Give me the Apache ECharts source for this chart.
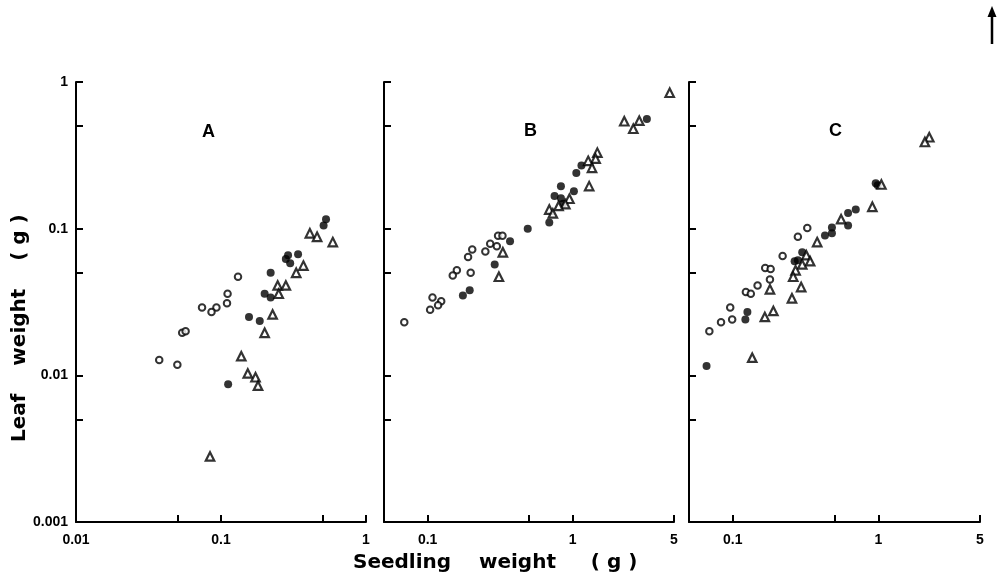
<!DOCTYPE html>
<html><head><meta charset="utf-8">
<script src="https://cdn.jsdelivr.net/npm/echarts@6/dist/echarts.min.js"></script>
<style>html,body{margin:0;padding:0;background:#fff}#c{width:1001px;height:587px}</style>
</head><body><div id="c"></div>
<script>
// ---- data ----
const panelNames = ['A', 'B', 'C'];
const yRange = [0.001, 1];
const yTicks = [0.001, 0.005, 0.01, 0.05, 0.1, 0.5, 1];
const yLabels = [0.001, 0.01, 0.1, 1];
const xRangeA = [0.01, 1];
const xTicksA = [0.01, 0.05, 0.1, 0.5, 1];
const xLabelsA = [0.01, 0.1, 1];
const xRangeBC = [0.05, 5];
const xTicksBC = [0.05, 0.1, 0.5, 1, 5];
const xLabelsBC = [0.1, 1, 5];
const xTitle = 'Seedling    weight     ( g )';
const yTitle = 'Leaf    weight    ( g )';

const aOpen = [[0.131,0.047],[0.111,0.036],[0.110,0.031],[0.093,0.029],[0.086,0.027],[0.074,0.029],[0.054,0.0195],[0.057,0.020],[0.0375,0.0127],[0.050,0.0118]];
const aFilled = [[0.53,0.116],[0.51,0.105],[0.34,0.067],[0.29,0.066],[0.28,0.062],[0.30,0.058],[0.22,0.050],[0.20,0.036],[0.22,0.034],[0.156,0.025],[0.185,0.0235],[0.112,0.0087]];
const aTri = [[0.41,0.093],[0.46,0.088],[0.59,0.081],[0.37,0.056],[0.33,0.050],[0.246,0.041],[0.28,0.041],[0.25,0.036],[0.227,0.026],[0.20,0.0195],[0.138,0.0135],[0.153,0.0103],[0.173,0.0097],[0.18,0.0085],[0.084,0.0028]];

const bOpen = [[0.306,0.0895],[0.328,0.0895],[0.27,0.079],[0.30,0.076],[0.25,0.070],[0.203,0.072],[0.19,0.064],[0.159,0.052],[0.149,0.048],[0.198,0.050],[0.108,0.034],[0.124,0.032],[0.118,0.030],[0.104,0.028],[0.069,0.023]];
const bFilled = [[3.25,0.56],[1.15,0.27],[1.06,0.24],[0.83,0.195],[1.02,0.18],[0.75,0.167],[0.83,0.161],[0.86,0.148],[0.69,0.11],[0.49,0.10],[0.37,0.082],[0.29,0.057],[0.195,0.038],[0.175,0.035]];
const bTri = [[4.67,0.845],[2.27,0.54],[2.62,0.48],[2.88,0.545],[1.48,0.33],[1.44,0.30],[1.28,0.29],[1.36,0.26],[1.30,0.195],[0.95,0.16],[0.89,0.147],[0.80,0.143],[0.69,0.135],[0.73,0.127],[0.33,0.069],[0.31,0.047]];

const cOpen = [[0.325,0.101],[0.28,0.088],[0.22,0.065],[0.167,0.054],[0.182,0.053],[0.18,0.045],[0.148,0.041],[0.123,0.037],[0.133,0.036],[0.096,0.029],[0.099,0.024],[0.083,0.023],[0.069,0.020]];
const cFilled = [[0.96,0.204],[0.99,0.198],[0.70,0.135],[0.62,0.128],[0.62,0.105],[0.48,0.102],[0.48,0.093],[0.43,0.090],[0.30,0.069],[0.28,0.061],[0.266,0.060],[0.126,0.027],[0.122,0.024],[0.066,0.0116]];
const cTri = [[2.24,0.42],[2.09,0.39],[1.05,0.20],[0.91,0.141],[0.555,0.116],[0.38,0.081],[0.32,0.066],[0.34,0.060],[0.30,0.057],[0.27,0.052],[0.26,0.047],[0.295,0.040],[0.255,0.0335],[0.18,0.0386],[0.19,0.0275],[0.166,0.025],[0.136,0.0132]];

// ---- chart ----
const chart = echarts.init(document.getElementById('c'), null, {renderer: 'canvas'});
const fmt = v => String(+Number(v).toPrecision(3));
const grids = [
  {left: 76, top: 82, width: 290, height: 440, outerBoundsMode: 'none'},
  {left: 384, top: 82, width: 290, height: 440, outerBoundsMode: 'none'},
  {left: 689, top: 82, width: 291, height: 440, outerBoundsMode: 'none'}
];
const labelFont = {color: '#000', fontSize: 14, fontFamily: 'Liberation Sans', fontWeight: 'bold'};
const lineS = {color: '#000', width: 2};
function xAxis(i, range, ticks, labels) {
  return {type: 'log', logBase: 10, gridIndex: i, min: range[0], max: range[1], position: 'bottom',
    axisLine: {show: true, onZero: false, lineStyle: lineS},
    axisTick: {show: true, inside: true, length: 7, customValues: ticks, lineStyle: lineS},
    axisLabel: Object.assign({show: true, customValues: labels, formatter: fmt, margin: 11}, labelFont),
    splitLine: {show: false}, minorTick: {show: false}};
}
function yAxis(i, showLabels) {
  return {type: 'log', logBase: 10, gridIndex: i, min: yRange[0], max: yRange[1], position: 'left',
    axisLine: {show: true, onZero: false, lineStyle: lineS},
    axisTick: {show: true, inside: true, length: 7, customValues: yTicks, lineStyle: lineS},
    axisLabel: Object.assign({show: showLabels, customValues: yLabels, formatter: fmt, margin: 8}, labelFont),
    splitLine: {show: false}, minorTick: {show: false}};
}
const openStyle = {color: '#fff', borderColor: '#000', borderWidth: 2};
const fillStyle = {color: '#000', borderColor: '#000', borderWidth: 0};
const triStyle = {color: '#fff', borderColor: '#000', borderWidth: 2.2};
const panels = [[aOpen, aFilled, aTri], [bOpen, bFilled, bTri], [cOpen, cFilled, cTri]];
const series = [];
panels.forEach((p, i) => {
  series.push({type: 'scatter', xAxisIndex: i, yAxisIndex: i, data: p[0], symbol: 'circle', symbolSize: 6.5, itemStyle: openStyle, z: 3});
  series.push({type: 'scatter', xAxisIndex: i, yAxisIndex: i, data: p[1], symbol: 'circle', symbolSize: 8, itemStyle: fillStyle, z: 4});
  series.push({type: 'scatter', xAxisIndex: i, yAxisIndex: i, data: p[2], symbol: 'triangle', symbolSize: [8.5, 8.5], itemStyle: triStyle, z: 5});
});
const letterPos = [[208, 132], [530, 131], [835, 131]];
const graphic = panelNames.map((n, i) => ({type: 'text', left: letterPos[i][0] - 6, top: letterPos[i][1] - 9,
  style: {text: n, fill: '#000', font: 'bold 18px "Liberation Sans"'}}));
graphic.push({type: 'text', left: 353, top: 553, style: {text: xTitle, fill: '#000', font: 'bold 20px "DejaVu Sans"'}});
graphic.push({type: 'text', x: 10, y: 442, rotation: Math.PI / 2, style: {text: yTitle, fill: '#000', font: 'bold 20px "DejaVu Sans"', textVerticalAlign: 'top'}});
graphic.push({type: 'line', shape: {x1: 992, y1: 44, x2: 992, y2: 14}, style: {stroke: '#000', lineWidth: 2.5}});
graphic.push({type: 'polygon', shape: {points: [[992, 6], [987.5, 17], [996.5, 17]]}, style: {fill: '#000'}});

chart.setOption({
  animation: false,
  backgroundColor: '#fff',
  grid: grids,
  xAxis: [xAxis(0, xRangeA, xTicksA, xLabelsA), xAxis(1, xRangeBC, xTicksBC, xLabelsBC), xAxis(2, xRangeBC, xTicksBC, xLabelsBC)],
  yAxis: [yAxis(0, true), yAxis(1, false), yAxis(2, false)],
  series: series,
  graphic: graphic
});
</script></body></html>
